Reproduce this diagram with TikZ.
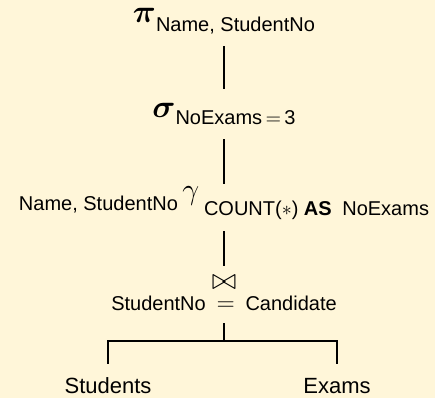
\documentclass[tikz,border=0pt]{standalone}
\usepackage{fix-cm}
\usepackage{amsmath}
\usepackage[no-math]{fontspec}
\setmainfont{Liberation Sans}
\usepackage{tikz}
\usetikzlibrary{positioning}
\definecolor{paper}{RGB}{255,246,217}
\newcommand{\opsym}[1]{{\fontsize{16}{16}\selectfont$\boldsymbol{#1}$}}

\begin{document}
\begin{tikzpicture}[line width=1pt,
                op/.style={inner sep=0pt, anchor=base},
                rel/.style={inner sep=0pt, anchor=base, font=\fontsize{11}{13}\selectfont,
                            text height=14pt, text depth=3pt}]

      \path[fill=paper, use as bounding box] (-112pt,11pt) rectangle (105.5pt,-188pt);

      \node[op, text height=7.5pt, text depth=11.5pt] (pi)
           {\opsym{\pi}\raisebox{-4.65pt}{Name, StudentNo}};
      \node[below=47.5pt of pi.base, op, text height=13.5pt, text depth=10.5pt] (sigma)
           {\opsym{\sigma}\raisebox{-3.9pt}{NoExams\,$=$\,3}};
      \node[below=41.25pt of sigma.base, op, text height=7.25pt, text depth=15.25pt] (gamma)
           {\raisebox{-5.25pt}{Name, StudentNo}\hspace{2.2pt}{\fontsize{15}{15}\selectfont$\gamma$}\hspace{2.4pt}\raisebox{-7.75pt}{COUNT($*$) \textbf{AS}\hspace{2.5pt} NoExams}};
      \node[below=44.75pt of gamma.base, op, text height=11pt, text depth=0pt] (join)
           {{\fontsize{15}{15}\selectfont$\bowtie$}};
      \node[below=10.5pt of join.base, op, text height=7pt, text depth=6pt] (cond)
           {StudentNo\hspace{2.6pt} {\fontsize{12}{12}\selectfont$=$}\hspace{2.6pt} Candidate};
      \coordinate[below=9pt of cond.south] (fork);
      \node[below left=41.5pt and 58pt of cond.base, rel] (students) {Students};
      \node[below right=41.5pt and 56.5pt of cond.base, rel] (exams) {Exams};

      \draw (pi.south) -- (sigma.north);
      \draw (sigma.south) -- (gamma.north);
      \draw (gamma.south) -- (join.north);
      \draw (cond.south) -- (fork);
      \draw (fork) -| (students.north);
      \draw (fork) -| (exams.north);
  \end{tikzpicture}
\end{document}
